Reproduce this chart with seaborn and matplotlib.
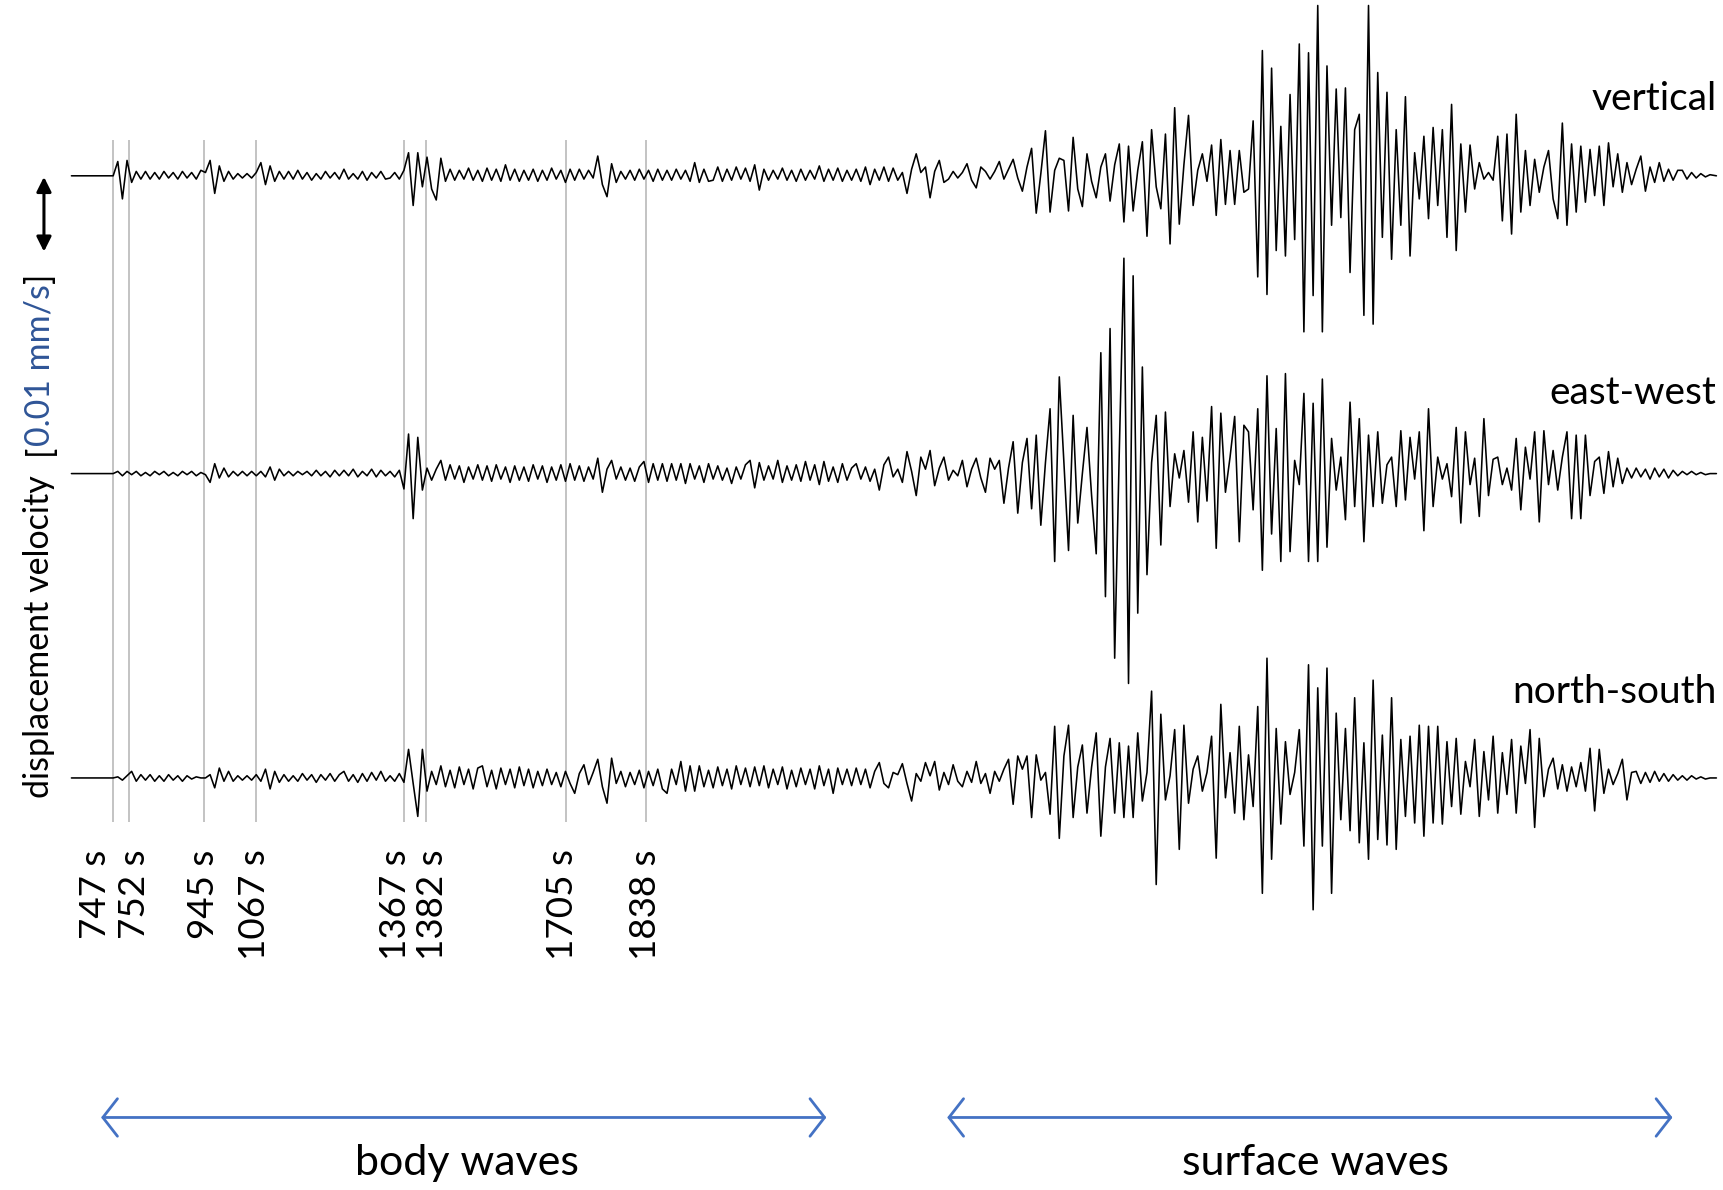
import numpy as np
import pandas as pd
import matplotlib
matplotlib.use("Agg")
import matplotlib.pyplot as plt
import seaborn as sns

sns.set_theme(style="white")
plt.rcParams['font.family'] = ['Lato', 'DejaVu Sans']

# ---------------- data (successive peak / trough amplitudes) -------------
components = ["vertical", "east-west", "north-south"]

vertical = [
    0, 13, -21, 14, -6, 4, -3, 4, -3, 3,
    -3, 4, -2, 3, -3, 4, -2, 3, -3, 5,
    3, 14, -16, 9, -5, 4, -3, 2, -2, 2,
    -2, 3, 12, -8, 9, -5, 4, -3, 4, -3,
    5, -3, 3, -4, 2, -3, 4, -2, 3, -3,
    6, -3, 2, -3, 4, -4, 3, -2, 4, -3,
    -2, 3, -3, 5, 21, -27, 21, -10, 17, -12,
    -22, 16, -5, 6, -4, 5, -3, 7, -4, 5,
    -5, 7, -4, 6, -5, 10, -4, 6, -5, 5,
    -4, 6, -5, 5, -4, 7, -3, 5, -6, 6,
    -4, 6, -3, 5, -2, 18, -8, -19, 11, -6,
    4, -3, 5, -4, 6, -3, 5, -5, 6, -4,
    5, -4, 6, -3, 5, -5, 12, -6, 6, -5,
    -4, 8, -5, 6, -4, 8, -3, 7, -5, 10,
    -13, 6, -4, 5, -3, 7, -4, 5, -5, 6,
    -4, 5, -3, 9, -5, 6, -4, 7, -5, 5,
    -4, 6, -5, 8, -8, 6, -4, 8, -5, 7,
    -4, 3, -16, 6, 20, 3, 8, -20, 4, 14,
    -6, -3, 4, -2, 3, 11, -4, -11, 8, 4,
    -3, 4, 13, -3, 6, 15, -2, -14, 8, 25,
    -34, 2, 41, -33, 5, 16, 14, -32, 35, -12,
    -28, 20, -5, -20, 8, 20, -23, 10, 29, -42,
    27, -32, 5, 31, -55, 42, -10, -30, 38, -62,
    62, -44, 10, 55, -27, 5, 20, -5, 28, -36,
    33, -26, 23, -26, 23, -15, -12, 50, -92, 114,
    -108, 98, -68, 45, -73, 74, -58, 120, -142, 112,
    -109, 155, -142, 100, -45, 79, -38, 80, -88, 42,
    56, -127, 155, -135, 94, -56, 76, -76, 42, -45,
    72, -73, 21, -21, 36, -39, 44, -27, 42, -56,
    65, -68, 29, -33, 28, -12, 12, -3, 3, -4,
    36, -41, 38, -53, 56, -33, 23, -27, 15, -15,
    8, 23, -21, -39, 48, -45, 29, -33, 27, -24,
    24, -18, 27, -27, 30, -10, 20, -15, 12, -8,
    6, 18, -14, 8, -6, 12, -5, 6, -4, 5,
    5, -3, 3, -2, 2, -1, 1,
]

east_west = [
    0, 2, -2, 2, -1, 2, -2, 1, -2, 2,
    -1, 2, -2, 1, -2, 2, -1, 2, -2, 1,
    -1, -8, 9, -4, 5, -3, 2, -2, 2, -2,
    2, -2, 2, -3, 6, -6, 4, -2, 2, -2,
    2, -1, 2, -2, 3, -2, 2, -3, 3, -2,
    3, -2, 4, -3, 2, -2, 4, -3, 3, -2,
    2, -3, 3, -14, 36, -41, 33, -15, 5, -6,
    4, 12, -6, 8, -5, 7, -8, 6, -5, 8,
    -6, 7, -7, 8, -5, 6, -8, 7, -6, 6,
    -7, 8, -5, 7, -8, 6, -6, 8, -7, 9,
    -6, 7, -7, 6, -5, 14, -17, 4, 12, -5,
    6, -6, 5, -7, 6, 11, -8, 9, -6, 9,
    -7, 9, -6, 9, -9, 9, -5, 7, -8, 9,
    -5, 7, -6, 5, -9, 6, -5, 8, 12, -13,
    10, -6, 7, -5, 12, -8, 7, -6, 8, -7,
    11, -6, 8, -10, 11, -7, 6, -8, 9, -6,
    5, 9, -5, 6, -7, 4, -15, 8, 15, -3,
    4, -8, 20, 2, -20, 15, 4, 21, -11, 5,
    15, -6, 3, -2, 12, -12, 4, 14, -4, -17,
    14, 4, 12, -27, 5, 29, -36, 10, 32, -32,
    35, -47, 10, 59, -80, 88, 10, -70, 53, -45,
    0, 42, -20, -73, 110, -112, 132, -168, 20, 196,
    -191, 180, -127, 97, -92, 10, 53, -65, 56, -30,
    18, -4, 21, -26, 38, -44, 33, -25, 61, -68,
    55, -17, 15, 52, -62, 44, 38, -33, 59, -88,
    89, -55, 41, -80, 91, -71, 12, -10, 73, -80,
    64, -80, 86, -67, 32, -15, 15, -42, 65, -30,
    50, -62, 35, -30, 38, -27, 8, 15, -30, 39,
    -24, 33, -5, 38, -52, 59, -30, 15, -5, 9,
    -21, 42, -45, 38, -10, 14, -39, 50, -20, 13,
    15, -10, 5, -15, 32, -33, 24, -5, 38, -44,
    39, -10, 21, -15, 15, 38, -41, 35, -41, 35,
    -20, 11, 15, -18, 20, -12, 14, -9, 5, -4,
    5, -3, 4, -5, 5, -3, 4, -4, 3, -2,
    2, -1, 2, -1, 1, -1, 0,
]

north_south = [
    0, 1, -2, 2, 6, -3, 3, -2, 3, -3,
    2, -3, 3, -2, 2, -3, 2, -1, 1, 0,
    0, 3, -9, 9, -3, 6, -3, 2, -2, 2,
    -2, 3, -3, 8, -10, 6, -4, 3, -3, 2,
    -3, 4, -2, 3, -4, 3, -2, 4, -3, 3,
    6, -3, 3, -4, 4, -3, 5, -2, 6, -3,
    2, -3, 4, -4, 26, -5, -35, 26, -12, 6,
    -6, 11, -8, 7, -9, 10, -6, 8, -10, 9,
    11, -8, 7, -10, 9, -6, 8, -9, 10, -7,
    8, -9, 6, -7, 8, -6, 5, -8, 6, -5,
    -14, 4, 12, -6, 5, 17, -8, -23, 18, -5,
    6, -8, 5, -6, 7, -9, 6, -7, 8, -10,
    -14, 8, -6, 15, -12, 11, -12, 11, -8, 7,
    -9, 10, -7, 8, -10, 11, -6, 9, -8, 10,
    -7, 11, -9, 8, -6, 10, -10, 7, -8, 9,
    -6, 8, -10, 11, -7, 8, -14, 9, -6, 8,
    -7, 9, -6, 8, -9, 6, 14, -5, -9, 5,
    3, 13, -5, -21, 4, -3, 14, 2, 15, -11,
    5, -6, 12, -3, -8, 6, -4, 15, -5, 4,
    -14, 6, -3, 8, 17, -24, 20, 8, 20, -36,
    21, -2, 5, -33, 47, -55, 20, 48, -36, 10,
    30, -32, 10, 41, -53, 10, 36, -32, 32, -36,
    29, -36, 41, -21, 5, 79, -97, 58, -20, 2,
    44, -65, 48, -23, 8, 20, -12, 5, 38, -73,
    67, -18, 23, -32, 47, -38, 21, -26, 65, -105,
    109, -74, 45, -42, 33, -15, 5, 44, -62, 103,
    -120, 82, -62, 100, -105, 59, -38, 45, -48, 73,
    -59, 32, -74, 89, -56, 39, -61, 73, -65, 35,
    -35, 38, -41, 48, -53, 47, -41, 47, -42, 33,
    -26, 36, -33, 15, -8, 35, -35, 24, -20, 38,
    -32, 23, -15, 35, -32, 29, -5, 44, -45, 36,
    -17, 8, 18, -10, 12, -12, 10, -8, 14, -12,
    27, -30, 26, -14, 8, -6, 4, 17, -20, 5,
    6, -5, 5, -4, 6, -3, 4, -3, 3, -2,
    2, -2, 2, -1, 1, -1, 0,
]

arrival_labels = ["747 s", "752 s", "945 s", "1067 s", "1367 s", "1382 s", "1705 s", "1838 s"]
arrival_pos = [103, 117, 186, 233, 368, 388, 515, 588]

# ---------------- layout constants -------------
W, H = 1568, 1083
baselines = {"vertical": 160, "east-west": 431, "north-south": 708}
name_baseline = {"vertical": 100, "east-west": 368, "north-south": 640}
label_x = [87, 122, 185, 231.5, 359.5, 394, 512, 587]
REC_START, ONSET, REC_END, TAIL = 65, 103, 1556.2, 1562
BLUE = "#4472C4"
DARKBLUE = "#2F5597"

series = {"vertical": vertical, "east-west": east_west, "north-south": north_south}
frames = []
for comp in components:
    vals = np.asarray(series[comp], dtype=float)
    x = np.concatenate([[REC_START], np.linspace(ONSET, REC_END, len(vals)), [TAIL]])
    a = np.concatenate([[0.0], vals, [0.0]])
    frames.append(pd.DataFrame({"x": x, "amp": a, "component": comp,
                                "y": baselines[comp] - a}))
df = pd.concat(frames, ignore_index=True)

fig = plt.figure(figsize=(17.23, 11.90), dpi=100)
ax = fig.add_axes([0, 0, 1, 1])

# arrival markers
ax.vlines(arrival_pos, 127, 748, color="#b3b3b3", lw=1.1, zorder=0)

for comp in components:
    sns.lineplot(data=df[df.component == comp], x="x", y="y", estimator=None, sort=False,
                 color="black", lw=1.15, ax=ax, zorder=2)

ax.set_xlim(0, W)
ax.set_ylim(H, 0)
ax.axis("off")

for lab, xp in zip(arrival_labels, label_x):
    ax.text(xp, 773, lab, rotation=90, ha="center", va="top", fontsize=26.5, color="black")

for comp in components:
    ax.text(1562, name_baseline[comp], comp, ha="right", va="baseline", fontsize=28, color="black")

# scale bar arrow
ax.annotate("", xy=(40, 161), xytext=(40, 229),
            arrowprops=dict(arrowstyle="<|-|>", color="black", lw=2.2, mutation_scale=22,
                            shrinkA=0, shrinkB=0))

# y-label in pieces (two colours)
fig.canvas.draw()
r = fig.canvas.get_renderer()
px2data = H / ax.bbox.height
y = 726
pieces = [("displacement velocity", "black", 0), ("[", "black", 18), ("0.01 mm/s", DARKBLUE, -1), ("]", "black", 1)]
for s, col, gap in pieces:
    y -= gap
    t = ax.text(45, y, s, rotation=90, rotation_mode="anchor", ha="left", va="baseline",
                color=col, fontsize=24.5)
    bb = t.get_window_extent(r)
    y -= bb.height * px2data

# wave-type arrows
for (x0, x1), name, xc in [((92, 752), "body waves", 425), ((862, 1522), "surface waves", 1197)]:
    ax.annotate("", xy=(x0, 1017), xytext=(x1, 1017),
                arrowprops=dict(arrowstyle="<->,head_length=0.35,head_width=0.45", color=BLUE,
                                lw=2.0, mutation_scale=30, shrinkA=0, shrinkB=0))
    ax.text(xc, 1069, name, ha="center", va="baseline", fontsize=31, color="black")

fig.savefig("out.png", dpi=100)
